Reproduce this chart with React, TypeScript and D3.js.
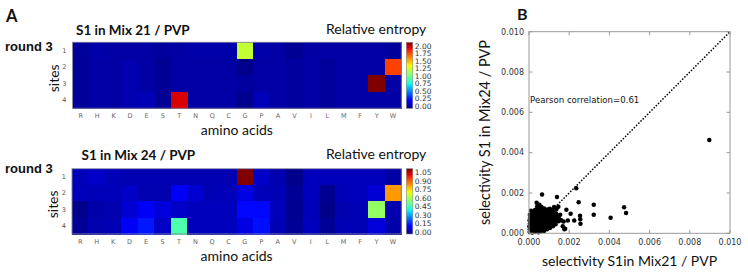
import React from "react";
import * as d3 from "d3";

// ---------- DATA ----------
const aminoAcids = ["R", "H", "K", "D", "E", "S", "T", "N", "Q", "C", "G", "P", "A", "V", "I", "L", "M", "F", "Y", "W"];
const sites = ["1", "2", "3", "4"];

// Relative entropy, S1 in Mix 21 / PVP (rows = sites 1..4)
const entropyMix21: number[][] = [
  [0.05, 0.08, 0.07, 0.07, 0.07, 0.06, 0.07, 0.08, 0.08, 0.08, 1.29, 0.08, 0.07, 0.04, 0.07, 0.07, 0.07, 0.07, 0.07, 0.05],
  [0.05, 0.07, 0.07, 0.09, 0.07, 0.04, 0.07, 0.07, 0.07, 0.07, 0.02, 0.07, 0.07, 0.06, 0.07, 0.05, 0.07, 0.07, 0.07, 1.85],
  [0.05, 0.07, 0.07, 0.09, 0.07, 0.04, 0.07, 0.07, 0.07, 0.07, 0.06, 0.07, 0.07, 0.06, 0.07, 0.05, 0.07, 0.07, 2.2, 0.07],
  [0.05, 0.07, 0.07, 0.09, 0.1, 0.04, 2.03, 0.07, 0.07, 0.07, 0.03, 0.11, 0.07, 0.06, 0.07, 0.05, 0.07, 0.07, 0.07, 0.07],
];
// Relative entropy, S1 in Mix 24 / PVP
const entropyMix24: number[][] = [
  [0.057, 0.07, 0.057, 0.05, 0.05, 0.05, 0.05, 0.05, 0.05, 0.05, 1.15, 0.07, 0.047, 0.012, 0.06, 0.06, 0.06, 0.06, 0.06, 0.037],
  [0.06, 0.057, 0.057, 0.07, 0.047, 0.047, 0.12, 0.08, 0.052, 0.057, 0.1, 0.057, 0.052, 0.022, 0.06, 0.017, 0.057, 0.06, 0.085, 0.86],
  [0.012, 0.042, 0.047, 0.085, 0.118, 0.09, 0.07, 0.06, 0.06, 0.06, 0.15, 0.15, 0.06, 0.017, 0.057, 0.008, 0.047, 0.052, 0.61, 0.047],
  [0.022, 0.047, 0.052, 0.118, 0.17, 0.07, 0.51, 0.06, 0.06, 0.06, 0.1, 0.16, 0.052, 0.022, 0.06, 0.022, 0.052, 0.052, 0.09, 0.042],
];
const vmaxMix21 = 2.2;
const vmaxMix24 = 1.15;
const cbarTicksMix21 = [0, 0.25, 0.5, 0.75, 1.0, 1.25, 1.5, 1.75, 2.0];
const cbarTicksMix24 = [0, 0.15, 0.3, 0.45, 0.6, 0.75, 0.9, 1.05];

// Selectivity pairs: [S1 in Mix21 / PVP, S1 in Mix24 / PVP]
const selectivityPairs: [number, number][] = [
  [0.00003, 0.00006], [0.00004, 0.0002], [0.00002, 0.00035], [0.00005, 0.0005], [0.00003, 0.00065], [0.00006, 0.0008], [0.00004, 0.00092],
  [0.00016, 0.00004], [0.00018, 0.00018], [0.00017, 0.00032], [0.00019, 0.00046], [0.00016, 0.0006], [0.00018, 0.00074], [0.00017, 0.00088], [0.00019, 0.00101],
  [0.00031, 0.00007], [0.00033, 0.00021], [0.00032, 0.00035], [0.0003, 0.00049], [0.00033, 0.00063], [0.00031, 0.00077], [0.00034, 0.0009], [0.00032, 0.00104], [0.0003, 0.00116],
  [0.00047, 0.00005], [0.00045, 0.00019], [0.00046, 0.00033], [0.00048, 0.00047], [0.00045, 0.00061], [0.00047, 0.00075], [0.00046, 0.00089], [0.00048, 0.00103], [0.00045, 0.00117], [0.00047, 0.00126],
  [0.0006, 0.0001], [0.00062, 0.00024], [0.00061, 0.00038], [0.00063, 0.00052], [0.0006, 0.00066], [0.00062, 0.0008], [0.00061, 0.00094], [0.00063, 0.00108], [0.0006, 0.00121], [0.00062, 0.0013],
  [0.00075, 0.00012], [0.00077, 0.00026], [0.00076, 0.0004], [0.00074, 0.00054], [0.00077, 0.00068], [0.00075, 0.00082], [0.00076, 0.00096], [0.00078, 0.0011], [0.00075, 0.00123],
  [0.0009, 0.0002], [0.00092, 0.00034], [0.00089, 0.00048], [0.00091, 0.00062], [0.0009, 0.00076], [0.00092, 0.0009], [0.00089, 0.00104], [0.00091, 0.00118],
  [0.00104, 0.00026], [0.00106, 0.0004], [0.00105, 0.00054], [0.00103, 0.00068], [0.00106, 0.00082], [0.00104, 0.00096], [0.00106, 0.0011], [0.00104, 0.00122],
  [0.00119, 0.00035], [0.00121, 0.00049], [0.00118, 0.00063], [0.0012, 0.00077], [0.00119, 0.00091], [0.00121, 0.00105], [0.00118, 0.00115],
  [0.00132, 0.00045], [0.00134, 0.00059], [0.00133, 0.00073], [0.00131, 0.00087], [0.00134, 0.001],
  [0.00147, 0.0006], [0.00149, 0.00074], [0.00146, 0.00086],
  [0.0016, 0.00065], [0.00155, 0.00092], [0.00137, 0.0012], [0.00125, 0.0013], [0.0001, 0.00112],
  [0.00052, 0.00142], [0.00038, 0.00152], [0.0004, 0.00132], [0.00065, 0.00193], [0.00139, 0.0018], [0.00146, 0.00132],
  [0.00186, 0.00117], [0.00207, 0.00097], [0.00193, 0.00063], [0.0018, 0.00023], [0.00176, 0.0002], [0.00168, 0.00035], [0.00172, 0.00058],
  [0.00225, 0.00063], [0.00254, 0.00087], [0.00255, 0.0007], [0.00256, 0.00047], [0.00247, 0.00154], [0.00235, 0.00223],
  [0.00322, 0.00142], [0.00322, 0.00092], [0.00406, 0.00077], [0.00473, 0.00129], [0.00483, 0.00101], [0.00897, 0.00463],
];
const scatterTicks = [0, 0.002, 0.004, 0.006, 0.008, 0.01];
const pearsonText = "Pearson correlation=0.61";

// ---------- STYLE ----------
const HUMAN = "Lato, 'Open Sans', sans-serif";
const MPL = "'DejaVu Sans', sans-serif";

// matplotlib "jet"
const jetR = d3.scaleLinear().domain([0, 0.35, 0.66, 0.89, 1]).range([0, 0, 1, 1, 0.5]).clamp(true);
const jetG = d3.scaleLinear().domain([0, 0.125, 0.375, 0.64, 0.91, 1]).range([0, 0, 1, 1, 0, 0]).clamp(true);
const jetB = d3.scaleLinear().domain([0, 0.11, 0.34, 0.65, 1]).range([0.5, 1, 1, 0, 0]).clamp(true);
const jet = (t: number) => d3.rgb(255 * jetR(t), 255 * jetG(t), 255 * jetB(t)).formatHex();

type HeatProps = {
  id: string;
  data: number[][];
  vmax: number;
  ticks: number[];
  left: number;
  right: number;
  top: number;
  bottom: number;
  title: string;
  titleX: number;
  titleY: number;
  roundY: number;
  ticksFmt: (v: number) => string;
};

function Heatmap(p: HeatProps) {
  const x = d3.scaleBand<string>().domain(aminoAcids).range([p.left, p.right]);
  const y = d3.scaleBand<string>().domain(sites).range([p.top, p.bottom]);
  const cbX = p.right + 5;
  const cbW = 6.5;
  const cbY = d3.scaleLinear().domain([0, p.vmax]).range([p.bottom, p.top]);
  const stops = d3.range(0, 1.0001, 0.02);
  const midX = (p.left + p.right) / 2;
  const midY = (p.top + p.bottom) / 2;
  return (
    <g>
      <defs>
        <linearGradient id={p.id} x1="0" y1="1" x2="0" y2="0">
          {stops.map((s) => (
            <stop key={s} offset={s} stopColor={jet(s)} />
          ))}
        </linearGradient>
      </defs>
      <text x={p.titleX} y={p.titleY} fontFamily={HUMAN} fontWeight={700} fontSize={13.5} fill="#111">
        {p.title}
      </text>
      <text x={p.right + 25} y={p.titleY - 1} textAnchor="end" fontFamily={HUMAN} fontSize={14} fill="#111">
        Relative entropy
      </text>
      <text x={5} y={p.roundY} fontFamily="'Liberation Sans', Arial, sans-serif" fontWeight={700} fontSize={13} fill="#111">
        round 3
      </text>
      <g shapeRendering="crispEdges">
        {p.data.map((row, i) =>
          row.map((v, j) => (
            <rect
              key={`${i}-${j}`}
              x={x(aminoAcids[j])}
              y={y(sites[i])}
              width={x.bandwidth() + 0.8}
              height={y.bandwidth() + 0.8}
              fill={jet(v / p.vmax)}
            />
          ))
        )}
      </g>
      <rect x={p.left} y={p.top} width={p.right - p.left} height={p.bottom - p.top} fill="none" stroke="#8080a0" strokeWidth={0.9} />
      {sites.map((s) => (
        <text key={s} x={p.left - 6} y={(y(s) as number) + y.bandwidth() / 2} dy="0.35em" textAnchor="end" fontFamily={MPL} fontSize={6.5} fill="#555">
          {s}
        </text>
      ))}
      {aminoAcids.map((a) => (
        <text key={a} x={(x(a) as number) + x.bandwidth() / 2} y={p.bottom + 10} textAnchor="middle" fontFamily={MPL} fontSize={6.5} fill="#666">
          {a}
        </text>
      ))}
      <text transform={`translate(${p.left - 14},${midY + 3}) rotate(-90)`} textAnchor="middle" fontFamily={HUMAN} fontSize={14} fill="#111">
        sites
      </text>
      <text x={midX} y={p.bottom + 26.5} textAnchor="middle" fontFamily={HUMAN} fontSize={14} fill="#111">
        amino acids
      </text>
      <rect x={cbX} y={p.top} width={cbW} height={p.bottom - p.top} fill={`url(#${p.id})`} stroke="#888" strokeWidth={0.6} />
      {p.ticks.map((t) => (
        <text key={t} x={cbX + cbW + 2} y={cbY(t) - 2} dy="0.35em" fontFamily={MPL} fontSize={7.5} fill="#333">
          {p.ticksFmt(t)}
        </text>
      ))}
    </g>
  );
}

function Scatter() {
  const left = 529, right = 730, top = 31.7, bottom = 233.3;
  const x = d3.scaleLinear().domain([0, 0.01]).range([left, right]);
  const y = d3.scaleLinear().domain([0, 0.01]).range([bottom, top]);
  const fmt = d3.format(".3f");
  const tl = 3.5;
  return (
    <g>
      <text x={517} y={20} fontFamily={HUMAN} fontWeight={700} fontSize={16} fill="#111">B</text>
      <line x1={x(0)} y1={y(0)} x2={x(0.01)} y2={y(0.01)} stroke="#000" strokeWidth={1.7} strokeDasharray="0.01 3.1" strokeLinecap="round" />
      {selectivityPairs.map((d, i) => (
        <circle key={i} cx={x(d[0])} cy={y(d[1])} r={2.25} fill="#000" />
      ))}
      <rect x={left} y={top} width={right - left} height={bottom - top} fill="none" stroke="#999" strokeWidth={1} />
      {scatterTicks.map((t) => (
        <g key={t}>
          <line x1={x(t)} x2={x(t)} y1={bottom} y2={bottom - tl} stroke="#999" />
          <line x1={x(t)} x2={x(t)} y1={top} y2={top + tl} stroke="#999" />
          <line y1={y(t)} y2={y(t)} x1={left} x2={left + tl} stroke="#999" />
          <line y1={y(t)} y2={y(t)} x1={right} x2={right - tl} stroke="#999" />
          <text x={x(t)} y={bottom + 12} textAnchor="middle" fontFamily={MPL} fontSize={8} fill="#333">{fmt(t)}</text>
          <text x={left - 5} y={y(t)} dy="0.35em" textAnchor="end" fontFamily={MPL} fontSize={8} fill="#333">{fmt(t)}</text>
        </g>
      ))}
      <text x={left + 1} y={y(0.0066) + 3} fontFamily={MPL} fontSize={8.6} fill="#111">{pearsonText}</text>
      <text x={(left + right) / 2} y={266} textAnchor="middle" fontFamily={HUMAN} fontSize={14} fill="#111">
        selectivity S1in Mix21 / PVP
      </text>
      <text transform={`translate(${490},${(top + bottom) / 2}) rotate(-90)`} textAnchor="middle" fontFamily={HUMAN} fontSize={14.5} fill="#111">
        selectivity S1 in Mix24 / PVP
      </text>
    </g>
  );
}

export default function App() {
  return (
    <svg width={748} height={272} style={{ position: "absolute", left: 0, top: 0, background: "#fff" }}>
      <rect width={748} height={272} fill="#fff" />
      <text x={6} y={22} fontFamily={HUMAN} fontWeight={700} fontSize={16.5} fill="#111">A</text>
      <Heatmap
        id="cb1"
        data={entropyMix21}
        vmax={vmaxMix21}
        ticks={cbarTicksMix21}
        left={72.5}
        right={401.3}
        top={42.3}
        bottom={108.3}
        title="S1 in Mix 21 / PVP"
        titleX={76}
        titleY={35}
        roundY={51}
        ticksFmt={d3.format(".2f")}
      />
      <Heatmap
        id="cb2"
        data={entropyMix24}
        vmax={vmaxMix24}
        ticks={cbarTicksMix24}
        left={72}
        right={401.3}
        top={168.7}
        bottom={234}
        title="S1 in Mix 24 / PVP"
        titleX={81.5}
        titleY={160}
        roundY={173}
        ticksFmt={d3.format(".2f")}
      />
      <Scatter />
    </svg>
  );
}
